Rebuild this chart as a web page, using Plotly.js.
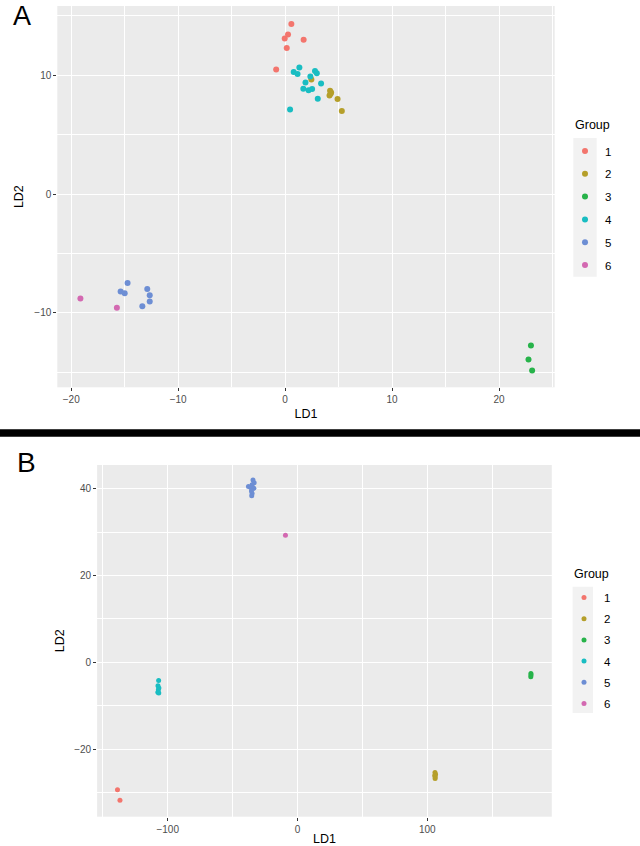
<!DOCTYPE html>
<html>
<head>
<meta charset="utf-8">
<script src="https://cdn.plot.ly/plotly-3.0.1.min.js"></script>
<style>html,body{margin:0;padding:0;background:#fff}#chart{width:640px;height:846px}</style>
</head>
<body>
<div id="chart"></div>
<script>
// ---- data ----
const groups = ['1', '2', '3', '4', '5', '6'];

// Panel A
const A_g1_LD1 = [0.58, 0.27, -0.04, 1.73, 0.15, -0.84];
const A_g1_LD2 = [14.33, 13.44, 13.10, 12.99, 12.31, 10.49];
const A_g2_LD1 = [2.45, 4.20, 4.30, 4.15, 4.25, 4.90, 5.30];
const A_g2_LD2 = [9.65, 8.70, 8.55, 8.30, 8.45, 8.00, 7.00];
const A_g3_LD1 = [22.98, 22.75, 23.09];
const A_g3_LD2 = [-12.76, -13.94, -14.87];
const A_g4_LD1 = [1.33, 0.80, 1.16, 2.79, 2.96, 2.36, 1.90, 3.36, 1.70, 2.19, 2.52, 3.05, 0.46];
const A_g4_LD2 = [10.65, 10.28, 10.12, 10.37, 10.17, 9.90, 9.40, 9.31, 8.86, 8.75, 8.84, 8.03, 7.12];
const A_g5_LD1 = [-14.73, -15.38, -15.00, -12.89, -12.66, -12.66, -13.35];
const A_g5_LD2 = [-7.49, -8.22, -8.36, -7.99, -8.53, -9.06, -9.45];
const A_g6_LD1 = [-19.14, -15.73];
const A_g6_LD2 = [-8.81, -9.57];

// Panel B
const B_g1_LD1 = [-138.7, -136.8];
const B_g1_LD2 = [-29.35, -31.8];
const B_g2_LD1 = [105.9, 106.3, 105.7, 106.1, 106.0];
const B_g2_LD2 = [-25.4, -25.8, -26.1, -26.4, -26.8];
const B_g3_LD1 = [179.8, 179.9, 179.7];
const B_g3_LD2 = [-2.6, -2.9, -3.3];
const B_g4_LD1 = [-107.0, -107.5, -106.8, -107.2, -107.6, -106.9];
const B_g4_LD2 = [-4.2, -5.4, -5.9, -6.3, -6.9, -7.1];
const B_g5_LD1 = [-34.3, -33.4, -35.0, -37.8, -36.0, -33.6, -35.5, -35.0, -35.3];
const B_g5_LD2 = [42.0, 41.4, 40.9, 40.5, 40.3, 40.1, 39.5, 38.9, 38.4];
const B_g6_LD1 = [-9.3];
const B_g6_LD2 = [29.3];

const A_LD1 = [A_g1_LD1, A_g2_LD1, A_g3_LD1, A_g4_LD1, A_g5_LD1, A_g6_LD1];
const A_LD2 = [A_g1_LD2, A_g2_LD2, A_g3_LD2, A_g4_LD2, A_g5_LD2, A_g6_LD2];
const B_LD1 = [B_g1_LD1, B_g2_LD1, B_g3_LD1, B_g4_LD1, B_g5_LD1, B_g6_LD1];
const B_LD2 = [B_g1_LD2, B_g2_LD2, B_g3_LD2, B_g4_LD2, B_g5_LD2, B_g6_LD2];

// ---- styles ----
const colors = ['#F3756D', '#B59F2A', '#27B34A', '#19BDC2', '#6D8ED4', '#D369B1'];
const W = 640, H = 846;
const px = v => v / W;
const py = v => 1 - v / H;
const FONT = 'Liberation Sans, Arial, sans-serif';

const traces = [];
groups.forEach((g, i) => {
  traces.push({
    type: 'scatter', mode: 'markers', name: g,
    x: A_LD1[i], y: A_LD2[i], xaxis: 'x', yaxis: 'y',
    legend: 'legend', legendgroup: 'a' + g,
    marker: {color: colors[i], size: 6, line: {width: 0}},
    hoverinfo: 'x+y+name'
  });
});
groups.forEach((g, i) => {
  traces.push({
    type: 'scatter', mode: 'markers', name: g,
    x: B_LD1[i], y: B_LD2[i], xaxis: 'x2', yaxis: 'y2',
    legend: 'legend2', legendgroup: 'b' + g,
    marker: {color: colors[i], size: 5, line: {width: 0}},
    hoverinfo: 'x+y+name'
  });
});

function axis(extra) {
  return Object.assign({
    showgrid: true, gridcolor: '#ffffff', gridwidth: 1.1,
    zeroline: false, showline: false,
    ticks: 'outside', ticklen: 3, tickwidth: 1, tickcolor: '#333333',
    tickfont: {family: FONT, size: 10, color: '#4d4d4d'},
    fixedrange: true
  }, extra);
}

const layout = {
  width: W, height: H,
  margin: {l: 0, r: 0, t: 0, b: 0},
  paper_bgcolor: '#ffffff',
  plot_bgcolor: '#ebebeb',
  font: {family: FONT},
  showlegend: true,
  xaxis: axis({domain: [px(57.3), px(554.7)], range: [-21.3, 25.2], anchor: 'y',
    tickvals: [-20, -10, 0, 10, 20],
    minor: {dtick: 5, tick0: 0, showgrid: true, gridcolor: '#ffffff', gridwidth: 0.5},
    title: {text: 'LD1', standoff: 4, font: {family: FONT, size: 12.5, color: '#000'}}}),
  yaxis: axis({domain: [py(387.3), py(6)], range: [-16.28, 15.84], anchor: 'x',
    tickvals: [-10, 0, 10],
    minor: {dtick: 5, tick0: 0, showgrid: true, gridcolor: '#ffffff', gridwidth: 0.5},
    title: {text: 'LD2', standoff: 7, font: {family: FONT, size: 12.5, color: '#000'}}}),
  xaxis2: axis({domain: [px(97.1), px(551.8)], range: [-154.4, 195.9], anchor: 'y2',
    tickvals: [-100, 0, 100],
    minor: {dtick: 50, tick0: 0, showgrid: true, gridcolor: '#ffffff', gridwidth: 0.5},
    title: {text: 'LD1', standoff: 4, font: {family: FONT, size: 12.5, color: '#000'}}}),
  yaxis2: axis({domain: [py(816.7), py(465)], range: [-35.58, 45.47], anchor: 'x2',
    tickvals: [-20, 0, 20, 40],
    minor: {dtick: 10, tick0: 0, showgrid: true, gridcolor: '#ffffff', gridwidth: 0.5},
    title: {text: 'LD2', standoff: 6, font: {family: FONT, size: 12.5, color: '#000'}}}),
  legend: {
    x: px(565), xanchor: 'left', y: py(136.5), yanchor: 'top',
    bgcolor: 'rgba(0,0,0,0)', borderwidth: 0,
    font: {family: FONT, size: 11.5, color: '#000'},
    traceorder: 'grouped', tracegroupgap: 3.8, itemclick: false, itemdoubleclick: false
  },
  legend2: {
    x: px(564), xanchor: 'left', y: py(583), yanchor: 'top',
    bgcolor: 'rgba(0,0,0,0)', borderwidth: 0,
    font: {family: FONT, size: 11.5, color: '#000'},
    traceorder: 'grouped', tracegroupgap: 2.2, itemclick: false, itemdoubleclick: false
  },
  shapes: [
    {type: 'rect', xref: 'paper', yref: 'paper', x0: 0, x1: 1, y0: py(436.7), y1: py(429.3),
     fillcolor: '#000000', line: {width: 0}, layer: 'above'},
    {type: 'rect', xref: 'paper', yref: 'paper', x0: px(573.3), x1: px(596.7), y0: py(276.7), y1: py(138),
     fillcolor: '#f2f2f2', line: {width: 0}, layer: 'below'},
    {type: 'rect', xref: 'paper', yref: 'paper', x0: px(572.6), x1: px(593), y0: py(713), y1: py(586.7),
     fillcolor: '#f2f2f2', line: {width: 0}, layer: 'below'}
  ],
  annotations: [
    {text: 'A', xref: 'paper', yref: 'paper', x: px(21.5), y: 1, xanchor: 'center', yanchor: 'top',
     borderpad: 0, showarrow: false, font: {family: FONT, size: 27, color: '#000'}},
    {text: 'B', xref: 'paper', yref: 'paper', x: px(26), y: py(462.5), xanchor: 'center', yanchor: 'middle',
     showarrow: false, font: {family: FONT, size: 28, color: '#000'}},
    {text: 'Group', xref: 'paper', yref: 'paper', x: px(573), y: py(125), xanchor: 'left', yanchor: 'middle',
     showarrow: false, font: {family: FONT, size: 12.5, color: '#000'}},
    {text: 'Group', xref: 'paper', yref: 'paper', x: px(571.5), y: py(574.3), xanchor: 'left', yanchor: 'middle',
     showarrow: false, font: {family: FONT, size: 12.5, color: '#000'}}
  ]
};

Plotly.newPlot('chart', traces, layout, {displayModeBar: false, responsive: false});
</script>
</body>
</html>
